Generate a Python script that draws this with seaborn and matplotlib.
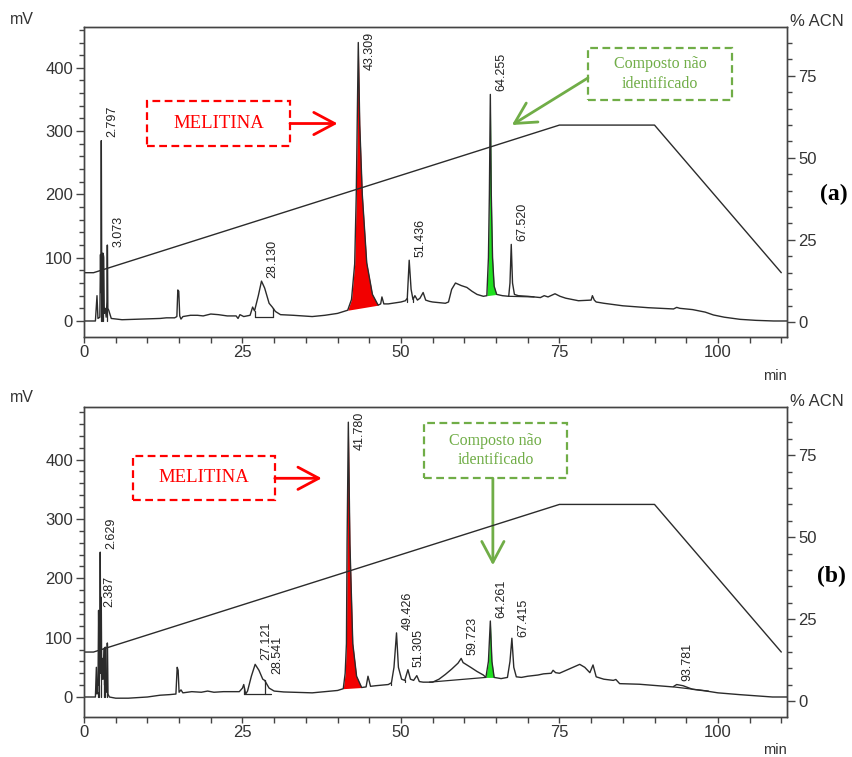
import numpy as np
import pandas as pd
import matplotlib
matplotlib.use("Agg")
import matplotlib.pyplot as plt
import seaborn as sns
from matplotlib.patches import Rectangle
from matplotlib.ticker import FixedLocator

# ---------------- data ----------------
grad_time = [0, 1.5, 75, 90, 110]
grad_acn = [15, 15, 60, 60, 15]

# panel (a) chromatogram trace (min, mV)
trace_a_time = [0, 1.8, 2.05, 2.2, 2.5, 2.6, 2.66, 2.73, 2.8, 2.88, 2.95, 3.02, 3.1, 3.2,
                3.35, 3.5, 3.62, 3.68, 3.75, 3.9, 4.3, 6, 9, 12, 13, 14.3, 14.65, 14.8,
                14.95, 15.1, 15.3, 15.6, 16.8, 17.9, 18.8, 20.0, 21.2, 22.6, 24.0, 24.3,
                24.6, 25.2, 26.2, 26.6, 26.9, 27.5, 28.0, 28.5, 29.2, 29.7, 30.2, 31, 33,
                36, 38, 40, 41.6, 42.2, 42.7, 42.95, 43.1, 43.27, 43.5, 43.9, 44.6, 45.5,
                46.4, 46.8, 47.0, 47.3, 48, 50, 50.7, 51.0, 51.3, 51.6, 51.9, 52.2, 52.6,
                53.0, 53.5, 53.9, 54.5, 55, 56, 57, 57.5, 58, 58.6, 59.5, 60.4, 61.2, 62,
                63, 63.55, 63.8, 63.95, 64.1, 64.25, 64.45, 64.7, 65.1, 66, 67, 67.2, 67.4,
                67.6, 67.9, 68.5, 70, 71, 72, 72.6, 73.2, 74.3, 75.1, 76, 78, 80, 80.2,
                80.5, 80.8, 82, 85, 89, 93.0, 93.5, 94, 96, 98, 99.3, 101, 103.5, 106,
                108.8, 111]
trace_a_mv = [0, 0, 40, 4, 6, 105, 45, 285, 60, 107, 60, 107, 100, 12,
              20, 6, 30, 120, 20, 17, 4, 2, 3, 4, 5, 5, 7, 49,
              47, 8, 3, 7, 9, 9, 8, 11, 10, 8, 8, 4,
              10, 7, 9, 22, 16, 40, 63, 52, 28, 22, 15, 10, 9,
              7, 9, 12, 17, 34, 90, 200, 310, 440, 310, 200, 92, 42,
              25, 27, 38, 27, 27, 30, 32, 36, 96, 50, 34, 40, 33,
              36, 45, 33, 31, 30, 29, 28, 30, 50, 60, 56, 53, 47, 42,
              39, 40, 100, 200, 358, 200, 100, 55, 42, 40, 39, 60, 121,
              60, 42, 40, 39, 38, 37, 40, 38, 43, 39, 36, 32, 33, 40,
              33, 30, 28, 24, 21, 19, 21.5, 20, 18, 14, 9.5, 6, 2.6, 1,
              0, 0]

# panel (b) chromatogram trace (min, mV)
trace_b_time = [0, 1.8, 1.95, 2.05, 2.2, 2.3, 2.4, 2.5, 2.56, 2.65, 2.72, 2.8, 2.9, 3.0,
                3.15, 3.25, 3.35, 3.45, 3.6, 3.68, 3.78, 4.0, 5, 7, 10, 12, 13.5, 14.5,
                14.7, 14.85, 15.0, 15.3, 15.6, 17, 18.5, 19.5, 20.5, 22, 24.5, 25.0, 25.2,
                25.5, 25.8, 26.4, 27.0, 27.6, 28.2, 28.5, 29.2, 30, 31.5, 36, 38, 40,
                40.9, 41.2, 41.4, 41.5, 41.7, 41.95, 42.4, 43.0, 43.8, 44.5, 44.8, 45.2,
                46, 48, 48.5, 48.9, 49.3, 49.6, 50.1, 50.6, 51.1, 51.5, 52.0, 52.5, 52.9,
                53.5, 55, 56, 57, 58, 59, 59.5, 59.8, 61, 62, 63, 63.4, 63.8, 64.1, 64.35,
                64.7, 65.8, 66.8, 67.2, 67.5, 67.8, 68.2, 69, 70, 71.6, 72.5, 73.7, 74.0,
                74.4, 75, 76.5, 78.2, 79, 79.8, 80.3, 80.8, 82, 83.5, 83.9, 84.5, 87.6,
                92.9, 93.5, 94.5, 96, 98.2, 100, 103.4, 108.6, 111]
trace_b_mv = [0, 0, 50, 5, 8, 146, 20, 60, 244, 40, 168, 30, 65, 30,
              82, 20, 84, 10, 8, 91, 5, 0, -2, -2, 0, 3, 4, 5,
              50, 45, 8, 12, 7, 9, 8, 10, 8, 9, 9, 15, 21,
              5, 10, 35, 55, 45, 30, 28, 15, 10, 8.5, 7, 9, 11,
              14, 40, 90, 258, 463, 258, 90, 35, 16, 17, 35, 18,
              19, 21, 24, 50, 108, 50, 30, 28, 46, 30, 28, 36, 26,
              25, 25, 30, 38, 47, 57, 65, 58, 50, 43, 37, 33, 60, 128, 60,
              33, 31, 33, 60, 99, 50, 34, 33, 35, 37, 39, 40, 45,
              41, 40, 47, 55, 50, 41, 54, 34, 30, 28, 29.5, 22.5, 21.5,
              17, 21, 19, 13, 10, 7, 4, 0, 0]

# highlighted peaks: (start, end) of the shaded region
red_peak_a = [41.6, 46.4]
green_peak_a = [63.55, 65.1]
red_peak_b = [40.9, 43.8]
green_peak_b = [63.4, 64.7]

# peak labels
labels_a_text = ["2.797", "3.073", "28.130", "43.309", "51.436", "64.255", "67.520"]
labels_a_time = [2.73, 3.68, 28.0, 43.27, 51.3, 64.1, 67.4]
labels_a_mv = [285, 112, 63, 440, 96, 358, 121]

labels_b_text = ["2.629", "2.387", "27.121", "28.541", "41.780", "49.426", "51.305",
                 "59.723", "64.261", "67.415", "93.781"]
labels_b_time = [2.56, 2.3, 27.0, 28.8, 41.7, 49.3, 51.1, 59.5, 64.1, 67.5, 93.5]
labels_b_mv = [244, 146, 58, 34, 463, 108, 46, 65, 128, 96, 22]

# integration baselines: (t0, mv0, t1, mv1)
integ_a = [(26.9, 7, 29.8, 7), (67.0, 39, 71.0, 38)]
integ_b = [(25.3, 4.5, 29.5, 4.5), (54.5, 25, 63.4, 33), (93.0, 17, 98.5, 10)]
# vertical drop lines: time, bottom mV
drops_a_time = [2.62, 2.9, 3.05, 3.68, 26.9, 29.8, 51.0, 51.9, 67.0]
drops_a_base = [0, 0, 0, 0, 7, 7, 30, 30, 39]
drops_b_time = [2.2, 2.4, 2.65, 3.15, 3.35, 3.68, 25.3, 28.5, 48.5, 50.6]
drops_b_base = [0, 0, 0, 0, 0, 0, 4.5, 4.5, 21, 26]

# ---------------- style ----------------
sns.set_style("ticks")
plt.rcParams['font.family'] = ['Liberation Sans', 'DejaVu Sans']
TXT = "#333333"
LINE = "#2b2b2b"
RED = "#FF0000"
GREEN = "#70AD47"
SERIF = ['Liberation Serif', 'DejaVu Serif']

fig = plt.figure(figsize=(8.53, 7.57), dpi=100)
W, H = 853, 757


def add_panel(top_px, bot_px, ylim_mv, ylim_acn, t, mv, red_rng, green_rng,
              lab_text, lab_time, lab_mv, integ, d_time, d_base):
    ax = fig.add_axes([84 / W, (H - bot_px) / H, 703 / W, (bot_px - top_px) / H])
    ax2 = ax.twinx()
    t = np.asarray(t, float)
    mv = np.asarray(mv, float)

    # fills
    for rng, col in ((red_rng, "#F20000"), (green_rng, "#1FE01F")):
        m = (t >= rng[0]) & (t <= rng[1])
        tt, yy = t[m], mv[m]
        base = np.interp(tt, [tt[0], tt[-1]], [yy[0], yy[-1]])
        ax.fill_between(tt, base, yy, color=col, lw=0, zorder=2)

    df = pd.DataFrame({"t": t, "mv": mv})
    sns.lineplot(data=df, x="t", y="mv", ax=ax, color=LINE, lw=1.0,
                 estimator=None, sort=False, zorder=3)

    # integration baselines
    for (t0, y0, t1, y1) in integ:
        sns.lineplot(x=[t0, t1], y=[y0, y1], ax=ax, color=LINE, lw=0.9,
                     estimator=None, sort=False, zorder=3)
    for dt, db in zip(d_time, d_base):
        top = np.interp(dt, t, mv)
        ax.plot([dt, dt], [db, top], color=LINE, lw=0.9, zorder=3)

    gdf = pd.DataFrame({"t": grad_time, "acn": grad_acn})
    sns.lineplot(data=gdf, x="t", y="acn", ax=ax2, color=LINE, lw=1.0,
                 estimator=None, sort=False)

    ax.set_xlim(0, 110.9)
    ax.set_ylim(*ylim_mv)
    ax2.set_ylim(*ylim_acn)

    # labels
    px_per_mv = (bot_px - top_px) / (ylim_mv[1] - ylim_mv[0])
    text_len = 40 / px_per_mv
    for s, lt, lm in zip(lab_text, lab_time, lab_mv):
        y = lm + 5
        if y + text_len > ylim_mv[1] - 4:
            ax.text(lt + 0.9, ylim_mv[1] - 5 / px_per_mv, s, rotation=90, ha='left',
                    va='top', fontsize=9, color="#222222", zorder=5)
        else:
            ax.text(lt + 0.8, y, s, rotation=90, ha='left', va='bottom',
                    fontsize=9, color="#222222", zorder=5)

    # axes styling
    ax.set_xlabel("")
    ax.set_ylabel("")
    ax2.set_ylabel("")
    ax.xaxis.set_major_locator(FixedLocator([0, 25, 50, 75, 100]))
    ax.xaxis.set_minor_locator(FixedLocator(np.arange(0, 111, 5)))
    ax.yaxis.set_major_locator(FixedLocator([0, 100, 200, 300, 400]))
    ax.yaxis.set_minor_locator(FixedLocator(np.arange(0, ylim_mv[1], 20)))
    ax2.yaxis.set_major_locator(FixedLocator([0, 25, 50, 75]))
    ax2.yaxis.set_minor_locator(FixedLocator(np.arange(0, 86, 5)))
    for a in (ax, ax2):
        a.tick_params(which='major', direction='out', length=6, width=1,
                      color="#444444", labelsize=12, labelcolor=TXT, pad=2)
        a.tick_params(which='minor', direction='out', length=3.5, width=1,
                      color="#444444")
        for sp in a.spines.values():
            sp.set_visible(True)
            sp.set_color("#444444")
            sp.set_linewidth(1.0)
    ax.tick_params(axis='x', which='both', length=4)
    return ax, ax2


axA, axA2 = add_panel(27, 337, (-25.3, 464.5), (-4.6, 89.9), trace_a_time, trace_a_mv,
                      red_peak_a, green_peak_a, labels_a_text, labels_a_time, labels_a_mv,
                      integ_a, drops_a_time, drops_a_base)
axB, axB2 = add_panel(407, 717, (-33.7, 488.6), (-4.8, 89.7), trace_b_time, trace_b_mv,
                      red_peak_b, green_peak_b, labels_b_text, labels_b_time, labels_b_mv,
                      integ_b, drops_b_time, drops_b_base)

dash = (0, (3.5, 2))
arrow_style = '->,head_length=0.75,head_width=0.4'

# ---- annotations panel (a)
axA.add_patch(Rectangle((9.9, 276.5), 22.6, 71, fill=False, edgecolor=RED,
                        lw=1.6, linestyle=dash, zorder=6))
axA.text(21.2, 312, "MELITINA", color=RED, fontsize=13.5, family=SERIF,
         ha='center', va='center', zorder=6)
axA.annotate('', xy=(40.0, 312), xytext=(32.5, 312),
             arrowprops=dict(arrowstyle=arrow_style, color=RED, lw=2,
                             mutation_scale=20, shrinkA=0, shrinkB=0), zorder=6)
axA.add_patch(Rectangle((79.5, 349), 22.7, 82, fill=False, edgecolor=GREEN,
                        lw=1.6, linestyle=dash, zorder=6))
axA.text(90.85, 390, "Composto não\nidentificado", color=GREEN, fontsize=11.5,
         family=SERIF, ha='center', va='center', linespacing=1.3, zorder=6)
axA.annotate('', xy=(67.5, 309.6), xytext=(79.5, 384),
             arrowprops=dict(arrowstyle=arrow_style, color=GREEN, lw=2,
                             mutation_scale=20, shrinkA=0, shrinkB=0), zorder=6)

# ---- annotations panel (b)
axB.add_patch(Rectangle((7.7, 332.6), 22.4, 73, fill=False, edgecolor=RED,
                        lw=1.6, linestyle=dash, zorder=6))
axB.text(18.9, 369, "MELITINA", color=RED, fontsize=13.5, family=SERIF,
         ha='center', va='center', zorder=6)
axB.annotate('', xy=(37.5, 368.5), xytext=(30.1, 368.5),
             arrowprops=dict(arrowstyle=arrow_style, color=RED, lw=2,
                             mutation_scale=20, shrinkA=0, shrinkB=0), zorder=6)
axB.add_patch(Rectangle((53.6, 368.5), 22.6, 92.5, fill=False, edgecolor=GREEN,
                        lw=1.6, linestyle=dash, zorder=6))
axB.text(64.9, 415, "Composto não\nidentificado", color=GREEN, fontsize=11.5,
         family=SERIF, ha='center', va='center', linespacing=1.3, zorder=6)
axB.annotate('', xy=(64.5, 222), xytext=(64.5, 368.5),
             arrowprops=dict(arrowstyle=arrow_style, color=GREEN, lw=2,
                             mutation_scale=20, shrinkA=0, shrinkB=0), zorder=6)

# ---- outer texts
def ftext(x, y, s, **kw):
    fig.text(x / W, 1 - y / H, s, **kw)

ftext(10, 19, "mV", fontsize=11.5, color=TXT, ha='left', va='center')
ftext(10, 398, "mV", fontsize=11.5, color=TXT, ha='left', va='center')
ftext(790, 21, "% ACN", fontsize=12, color=TXT, ha='left', va='center')
ftext(790, 401, "% ACN", fontsize=12, color=TXT, ha='left', va='center')
ftext(775, 376, "min", fontsize=10.5, color=TXT, ha='center', va='center')
ftext(775, 750, "min", fontsize=10.5, color=TXT, ha='center', va='center')
ftext(834, 194, "(a)", fontsize=17, fontweight='bold', family=SERIF,
      ha='center', va='center', color='black')
ftext(831, 576, "(b)", fontsize=17, fontweight='bold', family=SERIF,
      ha='center', va='center', color='black')

fig.savefig("out.png", dpi=100)
